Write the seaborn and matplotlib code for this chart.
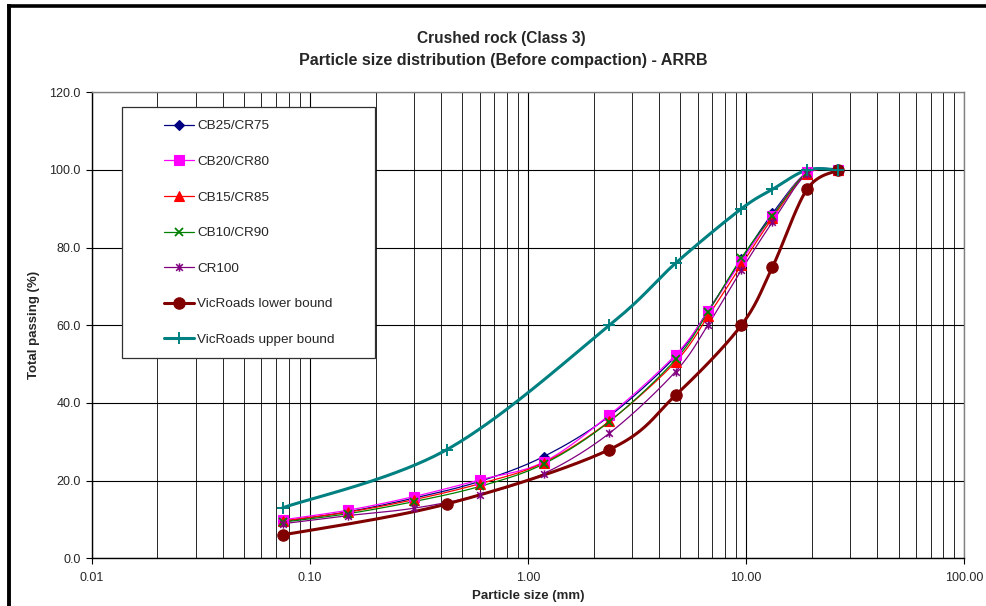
import numpy as np
import matplotlib
matplotlib.use("Agg")
import matplotlib.pyplot as plt
from matplotlib.lines import Line2D
from matplotlib.patches import Rectangle
from matplotlib.path import Path
from matplotlib.ticker import LogLocator, NullFormatter
import seaborn as sns

# Sieve sizes (mm)
sieve = [0.075, 0.15, 0.3, 0.6, 1.18, 2.36, 4.75, 6.7, 9.5, 13.2, 19.0, 26.5]
bound_sieve = [0.075, 0.425, 2.36, 4.75, 9.5, 13.2, 19.0, 26.5]

# Total passing (%)
cb25_cr75 = [9.5, 12.0, 15.5, 19.8, 26.2, 36.6, 52.0, 63.8, 77.0, 88.8, 99.3, 100.0]
cb20_cr80 = [9.9, 12.4, 15.9, 20.2, 24.8, 36.9, 52.4, 63.6, 76.5, 88.2, 99.5, 100.0]
cb15_cr85 = [9.6, 11.9, 15.1, 19.2, 24.6, 35.3, 50.6, 62.4, 75.5, 87.6, 99.0, 100.0]
cb10_cr90 = [9.3, 11.5, 14.6, 18.5, 24.3, 35.2, 51.2, 63.5, 77.3, 88.2, 99.3, 100.0]
cr100 = [8.9, 11.0, 12.9, 16.3, 21.8, 32.2, 48.1, 60.2, 74.2, 86.6, 99.0, 100.0]
vic_lower = [6.0, 14.0, 28.0, 42.0, 60.0, 75.0, 95.0, 100.0]
vic_upper = [13.0, 28.0, 60.0, 76.0, 90.0, 95.0, 100.0, 100.0]

series_names = ["CB25/CR75", "CB20/CR80", "CB15/CR85", "CB10/CR90", "CR100",
                "VicRoads lower bound", "VicRoads upper bound"]
x_tick_values = [0.01, 0.1, 1, 10, 100]
x_tick_labels = ["0.01", "0.10", "1.00", "10.00", "100.00"]
y_tick_values = [0, 20, 40, 60, 80, 100, 120]

sns.set_theme(style="white")
plt.rcParams["font.family"] = ["Liberation Sans", "DejaVu Sans"]

# Asterisk-like star: an X with a vertical stroke
star = Path([(-1, -1), (1, 1), (-1, 1), (1, -1), (0, -1.25), (0, 1.25)],
            [Path.MOVETO, Path.LINETO, Path.MOVETO, Path.LINETO, Path.MOVETO, Path.LINETO])

styles = [
    dict(color="#000080", marker="D", ms=5, lw=0.9, mew=0.8),
    dict(color="#FF00FF", marker="s", ms=6.5, lw=0.9, mew=0.8),
    dict(color="#FF0000", marker="^", ms=6.5, lw=0.9, mew=0.8),
    dict(color="#008000", marker="x", ms=5.5, lw=0.9, mew=1.3),
    dict(color="#800080", marker=star, ms=6, lw=0.9, mew=1.1),
    dict(color="#800000", marker="o", ms=8.2, lw=2.2, mew=0.8),
    dict(color="#008080", marker="+", ms=8, lw=2.2, mew=1.4),
]


def smooth_curve(xs, ys, n=40):
    """Bezier smoothing in log-x space (spreadsheet-style smoothed line)."""
    u = np.log10(np.asarray(xs, float))
    v = np.asarray(ys, float)
    P = np.column_stack([u, v])
    m = len(P)
    out = []
    for i in range(m - 1):
        p0 = P[i - 1] if i > 0 else P[i]
        p1, p2 = P[i], P[i + 1]
        p3 = P[i + 2] if i + 2 < m else P[i + 1]
        c1 = p1 + (p2 - p0) / 6.0
        c2 = p2 - (p3 - p1) / 6.0
        t = np.linspace(0, 1, n)[:, None]
        seg = ((1 - t) ** 3) * p1 + 3 * ((1 - t) ** 2) * t * c1 + 3 * (1 - t) * t ** 2 * c2 + t ** 3 * p2
        out.append(seg if i == 0 else seg[1:])
    out = np.vstack(out)
    return 10 ** out[:, 0], out[:, 1]


W, H = 987, 606
fig = plt.figure(figsize=(W / 100, H / 100), dpi=100)
fig.patch.set_facecolor("white")
left, right, top, bottom = 91.7, 964.3, 92.3, 558.3
ax = fig.add_axes([left / W, 1 - bottom / H, (right - left) / W, (bottom - top) / H])
ax.set_facecolor("white")

ax.set_xscale("log")
ax.set_xlim(0.01, 100)
ax.set_ylim(0, 120)

# Grid
ax.xaxis.set_minor_locator(LogLocator(base=10, subs=range(2, 10)))
ax.xaxis.set_minor_formatter(NullFormatter())
ax.grid(which="major", axis="both", color="black", lw=0.8)
ax.grid(which="minor", axis="x", color="#262626", lw=0.7)
ax.set_axisbelow(True)

all_series = [(sieve, cb25_cr75), (sieve, cb20_cr80), (sieve, cb15_cr85), (sieve, cb10_cr90),
              (sieve, cr100), (bound_sieve, vic_lower), (bound_sieve, vic_upper)]

handles = []
for (xs, ys), name, st in zip(all_series, series_names, styles):
    sx, sy = smooth_curve(xs, ys)
    sns.lineplot(x=sx, y=sy, ax=ax, color=st["color"], lw=st["lw"],
                 sort=False, estimator=None, legend=False, zorder=3)
    ax.plot(xs, ys, linestyle="none", marker=st["marker"], ms=st["ms"],
            mfc=st["color"], mec=st["color"], mew=st["mew"], zorder=4)
    handles.append(Line2D([], [], color=st["color"], lw=st["lw"], marker=st["marker"],
                          ms=st["ms"], mfc=st["color"], mec=st["color"], mew=st["mew"]))

# Axes styling
for side in ("left", "bottom"):
    ax.spines[side].set_color("black")
    ax.spines[side].set_linewidth(1.0)
for side in ("top", "right"):
    ax.spines[side].set_color("#808080")
    ax.spines[side].set_linewidth(1.0)

ax.set_xticks(x_tick_values)
ax.set_xticklabels(x_tick_labels)
ax.set_yticks(y_tick_values)
ax.set_yticklabels([f"{v:.1f}" for v in y_tick_values])
ax.tick_params(axis="x", which="major", direction="out", length=4, width=0.8,
               color="black", labelsize=9, pad=6, bottom=True)
ax.tick_params(axis="x", which="minor", length=0)
ax.tick_params(axis="y", direction="out", length=4.3, width=0.8, color="black",
               labelsize=9, pad=3.5, left=True)

ax.set_xlabel("Particle size (mm)", fontsize=9.5, fontweight="bold", labelpad=4)
ax.set_ylabel("Total passing (%)", fontsize=9.5, fontweight="bold", labelpad=7)

# Title
fig.text(501 / W, 1 - 39 / H, "Crushed rock (Class 3)", ha="center", va="center",
         fontsize=11.2, fontweight="bold")
fig.text(503 / W, 1 - 61 / H, "Particle size distribution (Before compaction) - ARRB",
         ha="center", va="center", fontsize=11.6, fontweight="bold")

# Legend box
fig.patches.append(Rectangle((122 / W, 1 - 358 / H), (375 - 122) / W, (358 - 107) / H,
                             transform=fig.transFigure, facecolor="white",
                             edgecolor="#303030", lw=0.9, zorder=5))
leg = fig.legend(handles, series_names, loc="upper left",
                 bbox_to_anchor=(164 / W, 1 - 120 / H), bbox_transform=fig.transFigure,
                 frameon=False, fontsize=9.7, borderpad=0, borderaxespad=0,
                 handlelength=2.2, handletextpad=0.25, labelspacing=1.72)
leg.set_zorder(6)

# Outer chart border (left and top edges)
fig.lines.append(Line2D([9 / W, 9 / W], [-0.05, 1 - 6 / H], transform=fig.transFigure,
                        color="black", lw=2.8, solid_capstyle="projecting"))
fig.lines.append(Line2D([9 / W, 1.05], [1 - 6 / H, 1 - 6 / H], transform=fig.transFigure,
                        color="black", lw=2.6, solid_capstyle="projecting"))

fig.savefig("out.png", dpi=100, facecolor="white")
